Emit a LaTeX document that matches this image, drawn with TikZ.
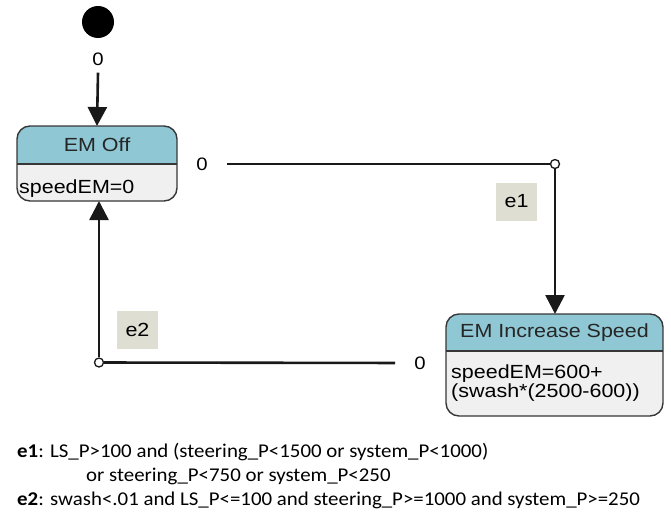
\documentclass[tikz,border=0pt]{standalone}
\usepackage{fontspec}
\setmainfont{Liberation Sans}
\newfontfamily\diagfont[FakeStretch=1.13]{Liberation Sans}
\newfontfamily\notefont[FakeStretch=1.07]{Carlito}
\usetikzlibrary{arrows.meta,positioning}

\definecolor{hdrblue}{RGB}{143,199,212}
\definecolor{bodygray}{RGB}{240,240,240}
\definecolor{guardbg}{RGB}{222,222,210}
\definecolor{framegray}{RGB}{55,55,55}

\tikzset{
  statebox/.style={rectangle,rounded corners=13pt,fill=bodygray,inner sep=0pt,outer sep=0pt},
  frameline/.style={draw=framegray,line width=1.4pt},
  conn/.style={line width=2.6pt,draw=black!90},
  flow/.style={conn,-{Triangle[width=19pt,length=19pt]}},
  junc/.style={circle,draw=black!90,line width=1.3pt,fill=white,inner sep=0pt,minimum size=9pt},
  prio/.style={font=\diagfont\fontsize{18}{20}\selectfont,inner sep=1pt},
  guard/.style={fill=guardbg,minimum width=41pt,minimum height=38pt,inner sep=0pt,font=\diagfont\fontsize{19}{22}\selectfont},
  stname/.style={font=\diagfont\fontsize{19}{22}\selectfont,text=black!85},
  stact/.style={font=\diagfont\fontsize{19}{19}\selectfont,align=left,inner sep=0pt,anchor=base west}
}

\begin{document}
\begin{tikzpicture}[x=1pt,y=-1pt]
\useasboundingbox (0,0) rectangle (671,514);

% initial state
\node (init) at (98,22) [circle,fill=black,minimum size=32pt,inner sep=0pt] {};
\node (p0) at (98,59) [prio] {0};

% state EM Off
\node (off) at (97,163.5) [statebox,minimum width=160pt,minimum height=75pt] {};
\begin{scope}
\clip[rounded corners=13pt] (off.north west) rectangle (off.south east);
\fill[hdrblue] (off.north west) rectangle ([yshift=-38pt]off.north east);
\end{scope}
\draw[frameline] ([yshift=-38pt]off.north west) -- ([yshift=-38pt]off.north east);
\draw[frameline,rounded corners=13pt] (off.north west) rectangle (off.south east);
\node (offname) at ([yshift=-19pt]off.north) [stname] {EM Off};
\node (offact) at ([xshift=2pt,yshift=-67pt]off.north west) [stact] {speedEM=0};

% state EM Increase Speed
\node (inc) at (554.5,365) [statebox,minimum width=217pt,minimum height=102pt] {};
\begin{scope}
\clip[rounded corners=13pt] (inc.north west) rectangle (inc.south east);
\fill[hdrblue] (inc.north west) rectangle ([yshift=-37pt]inc.north east);
\end{scope}
\draw[frameline] ([yshift=-37pt]inc.north west) -- ([yshift=-37pt]inc.north east);
\draw[frameline,rounded corners=13pt] (inc.north west) rectangle (inc.south east);
\node (incname) at ([yshift=-18.5pt]inc.north) [stname] {EM Increase Speed};
\node (incact) at ([xshift=5pt,yshift=-83pt]inc.north west) [stact] {speedEM=600+\\(swash*(2500-600))};

% transitions
\draw[flow] (p0.south) ++(0,-6pt) -- (off.north);

\node (p1) at (202,164) [prio] {0};
\node (j1) at (555,164) [junc] {};
\node (e1) at (516.5,201.5) [guard] {e1};
\draw[conn,shorten <=18pt] (p1.east) -- (j1);
\draw[flow] (j1) -- (j1 |- inc.north);

\node (p2) at (420,363) [prio] {0};
\node (j2) at (99,362.5) [junc] {};
\node (e2) at (137.5,330) [guard] {e2};
\draw[conn,shorten <=18pt] (p2.west) -- (j2);
\draw[flow] (j2) -- (j2 |- off.south);

% guard conditions
\node (conds) at (17,505) [anchor=base west,inner sep=0pt,align=left,font=\notefont\fontsize{19.5}{24}\selectfont]
  {\textbf{e1}: LS\_P>100 and (steering\_P<1500 or system\_P<1000)\\
   \hspace*{69pt}or steering\_P<750 or system\_P<250\\
   \textbf{e2}: swash<.01 and LS\_P<=100 and steering\_P>=1000 and system\_P>=250};
\end{tikzpicture}
\end{document}
